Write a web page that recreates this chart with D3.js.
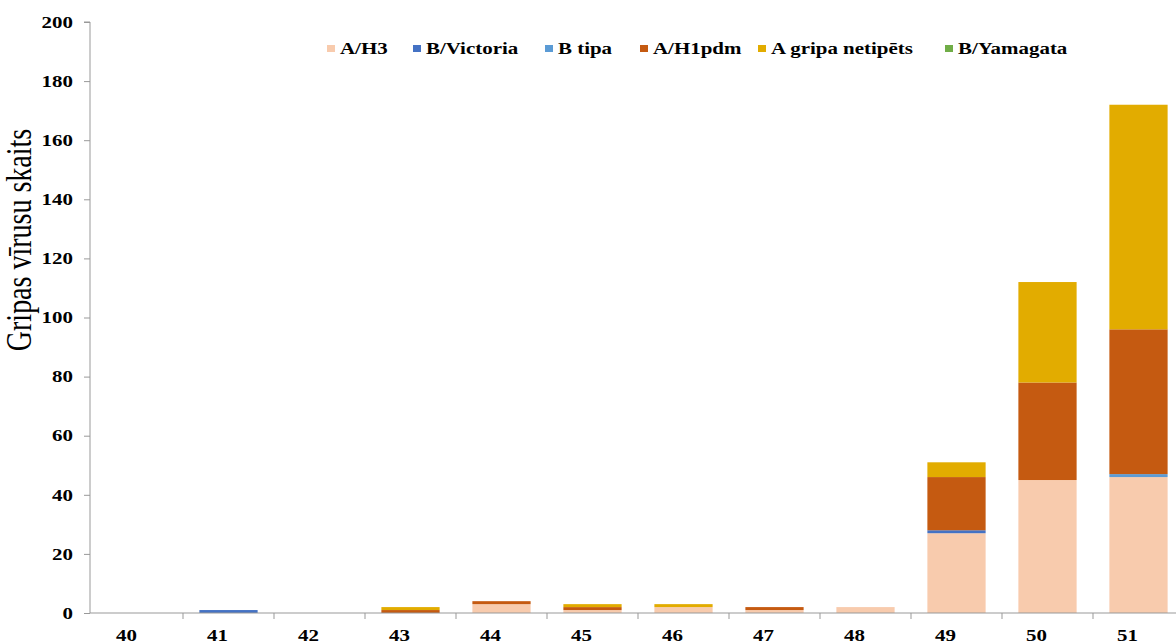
<!DOCTYPE html>
<html>
<head>
<meta charset="utf-8">
<script src="https://cdn.jsdelivr.net/npm/d3@7"></script>
<style>
  body { margin: 0; background: #fff; }
  svg { display: block; font-family: "Liberation Serif", "Times New Roman", serif; }
</style>
</head>
<body>
<svg width="1176" height="644"></svg>
<script>
// weeks and series
const weeks = ["40", "41", "42", "43", "44", "45", "46", "47", "48", "49", "50", "51"];
const seriesNames = ["A/H3", "B/Victoria", "B tipa", "A/H1pdm", "A gripa netipēts", "B/Yamagata"];
const seriesColors = ["#F8CBAD", "#4472C4", "#5B9BD5", "#C55A11", "#E2AC00", "#70AD47"];
const aH3 = [0, 0, 0, 0, 3, 1, 2, 1, 2, 27, 45, 46];
const bVictoria = [0, 1, 0, 0, 0, 0, 0, 0, 0, 1, 0, 0];
const bTipa = [0, 0, 0, 0, 0, 0, 0, 0, 0, 0, 0, 1];
const aH1pdm = [0, 0, 0, 1, 1, 1, 0, 1, 0, 18, 33, 49];
const aNetipets = [0, 0, 0, 1, 0, 1, 1, 0, 0, 5, 34, 76];
const bYamagata = [0, 0, 0, 0, 0, 0, 0, 0, 0, 0, 0, 0];
const yTicks = [0, 20, 40, 60, 80, 100, 120, 140, 160, 180, 200];

const allSeries = [aH3, bVictoria, bTipa, aH1pdm, aNetipets, bYamagata];
let table = weeks.map((w, i) => {
    let row = { week: w };
    seriesNames.forEach((s, j) => { row[s] = allSeries[j][i]; });
    return row;
});

let svg = d3.select("svg");
let plotLeft = 90, plotTop = 22, plotBottom = 613, plotRight = 1184;
let stretch = 1.27; // the original picture is stretched sideways, text too

let xScale = d3.scaleBand()
    .domain(weeks)
    .range([plotLeft + 2, plotRight])
    .paddingInner(0.36)
    .paddingOuter(0.18);

let yScale = d3.scaleLinear()
    .domain([0, 200])
    .range([plotBottom, plotTop]);

let stack = d3.stack().keys(seriesNames)(table);

// bars
svg.append("g")
    .selectAll("g")
    .data(stack)
    .enter()
    .append("g")
    .attr("fill", (d, i) => seriesColors[i])
    .selectAll("rect")
    .data(d => d)
    .enter()
    .append("rect")
    .attr("x", d => xScale(d.data.week))
    .attr("width", xScale.bandwidth())
    .attr("y", d => yScale(d[1]))
    .attr("height", d => yScale(d[0]) - yScale(d[1]));

// y axis
let yAxis = svg.append("g")
    .attr("transform", `translate(${plotLeft}, 0)`)
    .call(d3.axisLeft(yScale).tickValues(yTicks).tickSize(6).tickPadding(11));
yAxis.attr("font-family", null).attr("font-size", null);
yAxis.select(".domain").attr("stroke", "#999").attr("d", `M-6,${plotTop}H0V${plotBottom}`);
yAxis.selectAll(".tick line").attr("stroke", "#999");
yAxis.selectAll("text")
    .attr("x", -17 / stretch)
    .attr("transform", `scale(${stretch},1)`)
    .style("font-size", "16.5px")
    .style("font-weight", "bold")
    .attr("fill", "#000");

// x axis with ticks at band boundaries
let step = xScale.step();
let xAxis = svg.append("g")
    .attr("transform", `translate(0, ${plotBottom})`)
    .call(d3.axisBottom(xScale).tickSize(0).tickPadding(16));
xAxis.attr("font-family", null).attr("font-size", null);
xAxis.select(".domain").attr("stroke", "#999").attr("d", `M${plotLeft},0H1176`);
xAxis.selectAll("text")
    .attr("dx", -11 / stretch)
    .attr("transform", `scale(${stretch},1)`)
    .style("font-size", "16.5px")
    .style("font-weight", "bold")
    .attr("fill", "#000");
xAxis.selectAll(".bound")
    .data(weeks.slice(1))
    .enter()
    .append("line")
    .attr("class", "bound")
    .attr("x1", d => xScale(d) - xScale.paddingInner() * step / 2)
    .attr("x2", d => xScale(d) - xScale.paddingInner() * step / 2)
    .attr("y1", 0)
    .attr("y2", 6)
    .attr("stroke", "#999");

// y axis title
svg.append("text")
    .attr("transform", `translate(31, 240) scale(${stretch},1) rotate(-90)`)
    .attr("text-anchor", "middle")
    .style("font-size", "28px")
    .text("Gripas vīrusu skaits");

// legend
let legendX = [327, 413, 545, 640, 758, 945];
let legend = svg.append("g")
    .selectAll("g")
    .data(seriesNames)
    .enter()
    .append("g")
    .attr("transform", (d, i) => `translate(${legendX[i]}, 0)`);
legend.append("rect")
    .attr("x", 0)
    .attr("y", 45)
    .attr("width", 8)
    .attr("height", 7)
    .attr("fill", (d, i) => seriesColors[i]);
legend.append("text")
    .attr("x", 13 / stretch)
    .attr("y", 54.5)
    .attr("transform", `scale(${stretch},1)`)
    .style("font-size", "16.5px")
    .style("font-weight", "bold")
    .text(d => d);
</script>
</body>
</html>
